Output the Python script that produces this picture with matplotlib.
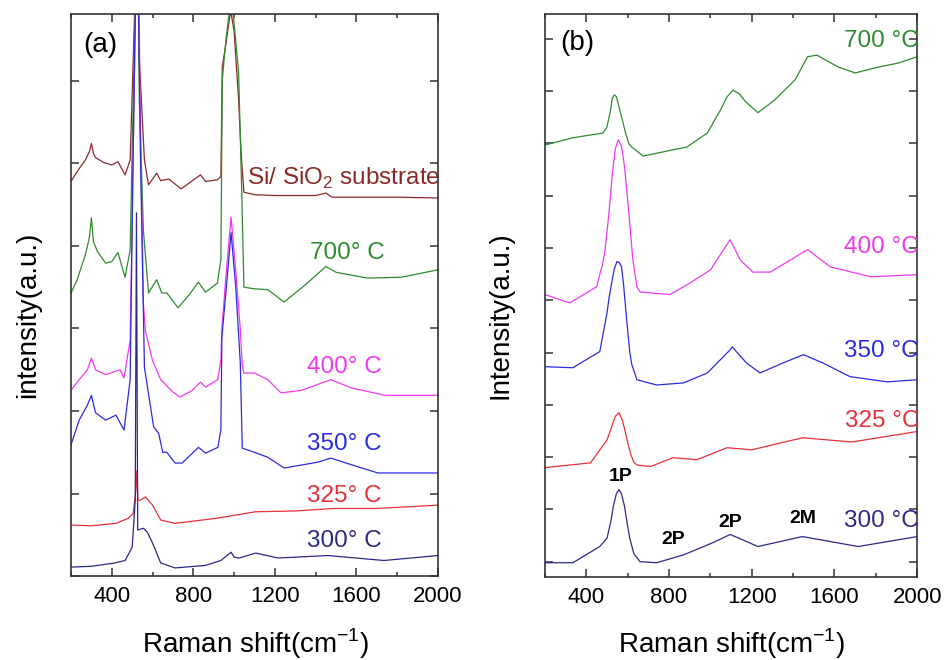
import numpy as np
import matplotlib.pyplot as plt
from matplotlib.ticker import MultipleLocator

plt.rcParams['font.family'] = ['Liberation Sans', 'DejaVu Sans']
plt.rcParams['mathtext.fontset'] = 'custom'
plt.rcParams['mathtext.rm'] = 'Liberation Sans'

# ---- (a) spectra (y in tick units, offset stack) ----
a_sub_x = [200, 230, 270, 290, 300, 310, 320, 360, 400, 430, 465, 490, 505, 520, 528, 535, 560, 580,
           620, 640, 680, 740, 790, 835, 860, 918, 935, 942, 960, 983, 1000, 1022, 1035, 1048,
           1100, 1200, 1400, 1450, 1480, 1600, 1800, 2000]
a_sub_y = [4.78, 4.90, 5.04, 5.14, 5.24, 5.12, 5.07, 5.01, 4.98, 5.02, 4.86, 5.04, 6.25, 7.5, 7.5, 6.25, 5.04, 4.74,
           4.88, 4.79, 4.81, 4.69, 4.78, 4.86, 4.78, 4.80, 4.84, 6.17, 6.45, 6.85, 6.60, 5.77, 5.10, 4.65,
           4.62, 4.61, 4.61, 4.64, 4.59, 4.59, 4.59, 4.58]

a_700_x = [200, 230, 270, 290, 300, 310, 330, 370, 400, 430, 465, 490, 505, 520, 528, 535, 555, 580,
           620, 645, 670, 725, 780, 825, 860, 918, 935, 942, 960, 985, 1000, 1022, 1038, 1048,
           1100, 1165, 1245, 1350, 1450, 1500, 1655, 1820, 2000]
a_700_y = [3.43, 3.59, 3.89, 4.10, 4.34, 4.05, 3.93, 3.79, 3.81, 3.92, 3.62, 3.95, 5.77, 7.5, 7.5, 5.77, 4.19, 3.43,
           3.59, 3.43, 3.43, 3.25, 3.41, 3.56, 3.44, 3.55, 3.83, 6.01, 6.50, 7.0, 6.70, 6.10, 4.60, 3.50,
           3.48, 3.47, 3.32, 3.53, 3.75, 3.68, 3.61, 3.62, 3.71]

a_400_x = [200, 240, 280, 300, 320, 370, 440, 460, 490, 505, 520, 530, 540, 555, 565, 600,
           640, 700, 735, 795, 835, 860, 920, 935, 940, 962, 985, 1008, 1030, 1040, 1048, 1100, 1165,
           1230, 1330, 1475, 1575, 1740, 2000]
a_400_y = [2.25, 2.38, 2.50, 2.64, 2.50, 2.44, 2.50, 2.40, 2.86, 5.16, 7.5, 7.5, 5.50, 3.30, 2.97, 2.61,
           2.38, 2.23, 2.17, 2.25, 2.35, 2.29, 2.38, 2.62, 3.00, 3.70, 4.35, 3.70, 3.00, 2.55, 2.46, 2.46, 2.38,
           2.22, 2.25, 2.38, 2.28, 2.19, 2.19]

a_350_x = [200, 240, 280, 300, 320, 370, 420, 460, 490, 505, 520, 528, 540, 560, 605, 630,
           650, 670, 710, 745, 825, 860, 920, 935, 940, 962, 985, 1008, 1030, 1040, 1100, 1165,
           1245, 1410, 1475, 1575, 1705, 2000]
a_350_y = [1.59, 1.89, 2.07, 2.19, 1.98, 1.89, 1.95, 1.77, 2.38, 5.16, 7.5, 7.5, 5.16, 2.53, 1.81, 1.73,
           1.50, 1.50, 1.37, 1.37, 1.56, 1.49, 1.56, 1.77, 2.90, 3.50, 4.16, 3.50, 2.60, 1.55, 1.50, 1.44,
           1.31, 1.38, 1.43, 1.35, 1.25, 1.25]

a_325_x = [200, 300, 420, 480, 505, 518, 523, 528, 540, 565, 600, 640, 710, 910, 1105,
           1300, 1490, 1700, 2000]
a_325_y = [0.62, 0.61, 0.64, 0.70, 0.76, 1.04, 1.28, 0.92, 0.92, 0.96, 0.86, 0.68, 0.64, 0.70, 0.78,
           0.79, 0.82, 0.82, 0.86]

a_300_x = [200, 300, 415, 465, 500, 515, 521, 527, 555, 575, 600, 640, 710, 860, 935,
           985, 1000, 1025, 1105, 1215, 1460, 1735, 2000]
a_300_y = [0.11, 0.12, 0.16, 0.19, 0.35, 0.92, 4.40, 0.56, 0.58, 0.53, 0.40, 0.16, 0.10, 0.13, 0.19,
           0.29, 0.23, 0.22, 0.28, 0.22, 0.25, 0.19, 0.25]

# ---- (b) spectra ----
b_700_x = [200, 335, 480, 500, 515, 525, 535, 545, 555, 570, 590, 605, 620, 675, 820, 885, 985, 1050,
           1080, 1110, 1140, 1170, 1230, 1310, 1410, 1470, 1515, 1620, 1700, 1810, 1910, 2000]
b_700_y = [7.97, 8.11, 8.20, 8.32, 8.60, 8.85, 8.93, 8.90, 8.75, 8.51, 8.20, 8.00, 7.93, 7.76, 7.88, 7.93, 8.20, 8.65,
           8.89, 9.02, 8.95, 8.80, 8.59, 8.83, 9.22, 9.66, 9.69, 9.46, 9.35, 9.46, 9.54, 9.66]

b_400_x = [200, 320, 450, 480, 490, 505, 515, 525, 540, 555, 570, 585, 605, 625, 645, 660,
           805, 900, 1000, 1095, 1145, 1205, 1290, 1470, 1580, 1775, 2000]
b_400_y = [5.11, 4.95, 5.26, 5.72, 5.95, 6.50, 6.92, 7.40, 7.90, 8.07, 7.95, 7.55, 6.70, 5.77, 5.25, 5.16,
           5.11, 5.33, 5.58, 6.16, 5.77, 5.54, 5.54, 5.97, 5.64, 5.45, 5.49]

b_350_x = [200, 335, 465, 500, 510, 525, 535, 548, 560, 570, 580, 595, 610, 620, 645, 740, 870, 985,
           1095, 1105, 1175, 1240, 1350, 1450, 1545, 1675, 1855, 2000]
b_350_y = [3.73, 3.71, 4.02, 4.76, 5.05, 5.39, 5.60, 5.74, 5.72, 5.64, 5.30, 4.63, 4.00, 3.77, 3.48, 3.38, 3.42, 3.61,
           4.05, 4.11, 3.80, 3.61, 3.80, 3.96, 3.80, 3.54, 3.44, 3.48]

b_325_x = [200, 420, 500, 520, 540, 558, 575, 590, 600, 615, 630, 645, 710, 820, 935, 1080, 1200,
           1445, 1685, 2000]
b_325_y = [1.80, 1.89, 2.33, 2.55, 2.78, 2.85, 2.70, 2.45, 2.28, 2.05, 1.90, 1.85, 1.82, 1.99, 1.95, 2.18, 2.14,
           2.37, 2.29, 2.49]

b_300_x = [200, 335, 465, 500, 520, 530, 545, 558, 570, 585, 600, 610, 630, 660, 740, 870, 1010,
           1095, 1120, 1230, 1445, 1715, 2000]
b_300_y = [-0.02, -0.02, 0.29, 0.45, 0.80, 1.05, 1.30, 1.38, 1.30, 1.05, 0.67, 0.45, 0.15, 0.00, -0.02, 0.13, 0.36,
           0.52, 0.48, 0.29, 0.48, 0.29, 0.48]

c_sub = '#8b2a2a'
c_700 = '#2e8b2e'
c_400 = '#ee3aee'
c_350 = '#2b2be0'
c_325 = '#e8303a'
c_300 = '#2a2a88'

fig = plt.figure(figsize=(9.47, 6.60), dpi=100)
ax1 = fig.add_axes([0.075, 0.127, 0.3875, 0.852])
ax2 = fig.add_axes([0.5755, 0.126, 0.393, 0.853])

lw = 0.9
ax1.plot(a_sub_x, a_sub_y, color=c_sub, lw=lw)
ax1.plot(a_700_x, a_700_y, color=c_700, lw=lw)
ax1.plot(a_400_x, a_400_y, color=c_400, lw=lw)
ax1.plot(a_350_x, a_350_y, color=c_350, lw=lw)
ax1.plot(a_325_x, a_325_y, color=c_325, lw=lw)
ax1.plot(a_300_x, a_300_y, color=c_300, lw=lw)

ax2.plot(b_700_x, b_700_y, color=c_700, lw=lw)
ax2.plot(b_400_x, b_400_y, color=c_400, lw=lw)
ax2.plot(b_350_x, b_350_y, color=c_350, lw=lw)
ax2.plot(b_325_x, b_325_y, color=c_325, lw=lw)
ax2.plot(b_300_x, b_300_y, color=c_300, lw=lw)

ax1.set_ylim(0, 6.81)
ax1.set_yticks(range(0, 7))
ax2.set_ylim(-0.29, 10.48)
ax2.set_yticks(range(0, 11))

for ax in (ax1, ax2):
    ax.set_xlim(200, 2000)
    ax.set_xticks([400, 800, 1200, 1600, 2000])
    ax.xaxis.set_minor_locator(MultipleLocator(200))
    ax.set_yticklabels([])
    ax.tick_params(which='both', direction='in', top=True, right=True, width=1.1, color='#333333')
    ax.tick_params(which='major', length=6, labelsize=16, pad=7)
    ax.tick_params(which='minor', length=3)
    for s in ax.spines.values():
        s.set_linewidth(1.2)
        s.set_color('#333333')

fs = 17.5
ax1.text(0.033, 0.932, '(a)', transform=ax1.transAxes, fontsize=20)
ax1.text(0.48, 0.696, 'Si/ SiO$_2$ substrate', transform=ax1.transAxes, fontsize=fs, color=c_sub)
ax1.text(0.651, 0.564, '700° C', transform=ax1.transAxes, fontsize=fs, color=c_700)
ax1.text(0.643, 0.361, '400° C', transform=ax1.transAxes, fontsize=fs, color=c_400)
ax1.text(0.643, 0.224, '350° C', transform=ax1.transAxes, fontsize=fs, color=c_350)
ax1.text(0.643, 0.132, '325° C', transform=ax1.transAxes, fontsize=fs, color=c_325)
ax1.text(0.643, 0.052, '300° C', transform=ax1.transAxes, fontsize=fs, color=c_300)

ax2.text(0.04, 0.936, '(b)', transform=ax2.transAxes, fontsize=20)
ax2.text(1.005, 0.941, '700 °C', transform=ax2.transAxes, fontsize=fs, color=c_700, ha='right')
ax2.text(1.005, 0.575, '400 °C', transform=ax2.transAxes, fontsize=fs, color=c_400, ha='right')
ax2.text(1.005, 0.391, '350 °C', transform=ax2.transAxes, fontsize=fs, color=c_350, ha='right')
ax2.text(1.005, 0.266, '325 °C', transform=ax2.transAxes, fontsize=fs, color=c_325, ha='right')
ax2.text(1.005, 0.089, '300 °C', transform=ax2.transAxes, fontsize=fs, color=c_300, ha='right')

peaks = ['1P', '2P', '2P', '2M']
peak_pos = [(0.202, 0.178), (0.344, 0.066), (0.497, 0.096), (0.694, 0.103)]
for lab, (px, py) in zip(peaks, peak_pos):
    ax2.text(px, py, lab, transform=ax2.transAxes, fontsize=14, fontweight='bold',
             ha='center', va='center')

fig.text(28 / 947, 1 - 315 / 660, 'intensity(a.u.)', rotation=90, fontsize=20,
         ha='center', va='center')
fig.text(500 / 947, 1 - 315 / 660, 'Intensity(a.u.)', rotation=90, fontsize=20,
         ha='center', va='center')
fig.text(256 / 947, 1 - 653 / 660, 'Raman shift(cm$^{-1}$)', fontsize=20, ha='center', va='baseline')
fig.text(732 / 947, 1 - 653 / 660, 'Raman shift(cm$^{-1}$)', fontsize=20, ha='center', va='baseline')

fig.savefig('out.png', dpi=100)
